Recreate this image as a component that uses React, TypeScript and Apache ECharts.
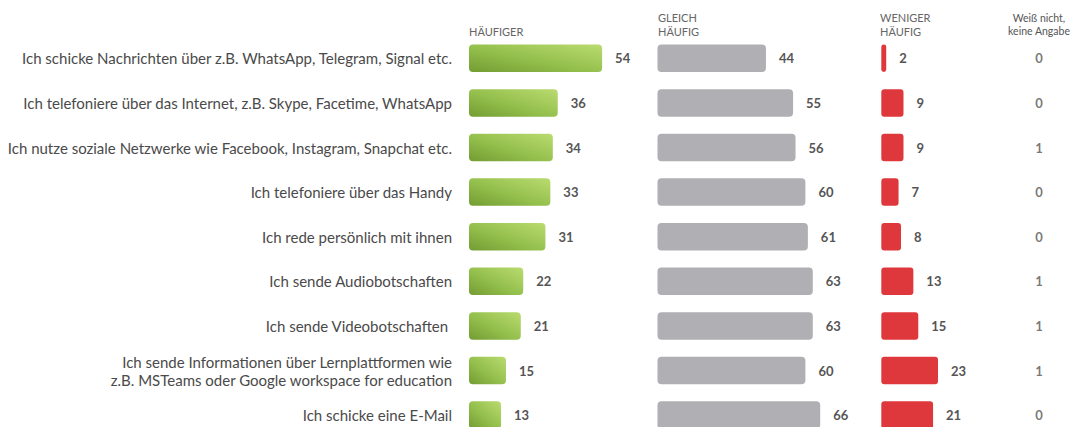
import React, { useEffect, useRef } from 'react';
import * as echarts from 'echarts';

const categories = [
  'Ich schicke Nachrichten über z.B. WhatsApp, Telegram, Signal etc.',
  'Ich telefoniere über das Internet, z.B. Skype, Facetime, WhatsApp',
  'Ich nutze soziale Netzwerke wie Facebook, Instagram, Snapchat etc.',
  'Ich telefoniere über das Handy',
  'Ich rede persönlich mit ihnen',
  'Ich sende Audiobotschaften',
  'Ich sende Videobotschaften ',
  'Ich sende Informationen über Lernplattformen wie\nz.B. MSTeams oder Google workspace for education',
  'Ich schicke eine E-Mail',
];
const haeufiger = [54, 36, 34, 33, 31, 22, 21, 15, 13];
const gleichHaeufig = [44, 55, 56, 60, 61, 63, 63, 60, 66];
const wenigerHaeufig = [2, 9, 9, 7, 8, 13, 15, 23, 21];
const weissNicht = [0, 0, 1, 0, 0, 1, 1, 1, 0];

const FONT = 'Lato, "Noto Sans", sans-serif';

export default function App() {
  const ref = useRef<HTMLDivElement>(null);
  useEffect(() => {
    if (!ref.current) return;
    const chart = echarts.init(ref.current, null, { renderer: 'svg' });
    const gridTop = 36;
    const gridHeight = 401.4;
    const lefts = [469, 657.5, 881.3, 1004];
    const widths = [246.5, 246.5, 246.5, 70];
    const grids = lefts.map((l, i) => ({ left: l, top: gridTop, width: widths[i], height: gridHeight }));
    const xAxes = lefts.map((_, i) => ({
      type: 'value',
      gridIndex: i,
      min: 0,
      max: i === 3 ? 1 : 100,
      show: false,
    }));
    const yAxes = lefts.map((_, i) => ({
      type: 'category',
      gridIndex: i,
      data: categories,
      inverse: true,
      axisLine: { show: false },
      axisTick: { show: false },
      splitLine: { show: false },
      axisLabel: i === 0
        ? { show: true, fontSize: 15, color: '#4a4a4a', fontFamily: FONT, margin: 17, lineHeight: 18 }
        : { show: false },
    }));
    const valueLabel = {
      show: true,
      position: 'right',
      distance: 13,
      fontSize: 13,
      fontWeight: 'bold',
      color: '#555',
      fontFamily: FONT,
    };
    const barBase = {
      type: 'bar',
      barWidth: 27.5,
      label: valueLabel,
    };
    const headerStyle = { fontSize: 11, fontFamily: FONT, fill: '#666' };
    chart.setOption({
      animation: false,
      backgroundColor: '#fff',
      grid: grids,
      xAxis: xAxes,
      yAxis: yAxes,
      series: [
        {
          ...barBase,
          name: 'HÄUFIGER',
          xAxisIndex: 0,
          yAxisIndex: 0,
          data: haeufiger,
          itemStyle: {
            borderRadius: 4,
            color: new echarts.graphic.LinearGradient(0, 1, 1, 0, [
              { offset: 0, color: '#739c32' },
              { offset: 0.45, color: '#93bf4c' },
              { offset: 1, color: '#badb70' },
            ]),
          },
        },
        {
          ...barBase,
          name: 'GLEICH HÄUFIG',
          xAxisIndex: 1,
          yAxisIndex: 1,
          data: gleichHaeufig,
          itemStyle: { borderRadius: 4, color: '#b0b0b4' },
        },
        {
          ...barBase,
          name: 'WENIGER HÄUFIG',
          xAxisIndex: 2,
          yAxisIndex: 2,
          data: wenigerHaeufig,
          itemStyle: { borderRadius: 3, color: '#df383c' },
        },
        {
          type: 'scatter',
          name: 'Weiß nicht, keine Angabe',
          xAxisIndex: 3,
          yAxisIndex: 3,
          symbolSize: 1,
          itemStyle: { color: 'rgba(0,0,0,0)' },
          data: weissNicht.map((v, i) => [0.5, i, v]),
          label: {
            show: true,
            position: 'inside',
            formatter: (p: any) => String(p.value[2]),
            fontSize: 13,
            fontWeight: 'bold',
            color: '#555',
            fontFamily: FONT,
          },
        },
      ],
      graphic: [
        { type: 'text', x: 469, y: 24, style: { ...headerStyle, text: 'HÄUFIGER', lineHeight: 14 } },
        { type: 'text', x: 658, y: 10, style: { ...headerStyle, text: 'GLEICH\nHÄUFIG', lineHeight: 14 } },
        { type: 'text', x: 880, y: 10, style: { ...headerStyle, text: 'WENIGER\nHÄUFIG', lineHeight: 14 } },
        {
          type: 'text',
          x: 1039,
          y: 12,
          style: { fontSize: 10.5, fontFamily: FONT, fill: '#555', text: 'Weiß nicht,\nkeine Angabe', lineHeight: 12.5, textAlign: 'center' },
        },
      ],
    });
    return () => chart.dispose();
  }, []);
  return (
    <div style={{ position: 'absolute', left: 0, top: 0, width: 1072, height: 427, overflow: 'hidden', background: '#fff' }}>
      <div ref={ref} style={{ width: 1200, height: 470 }} />
    </div>
  );
}
